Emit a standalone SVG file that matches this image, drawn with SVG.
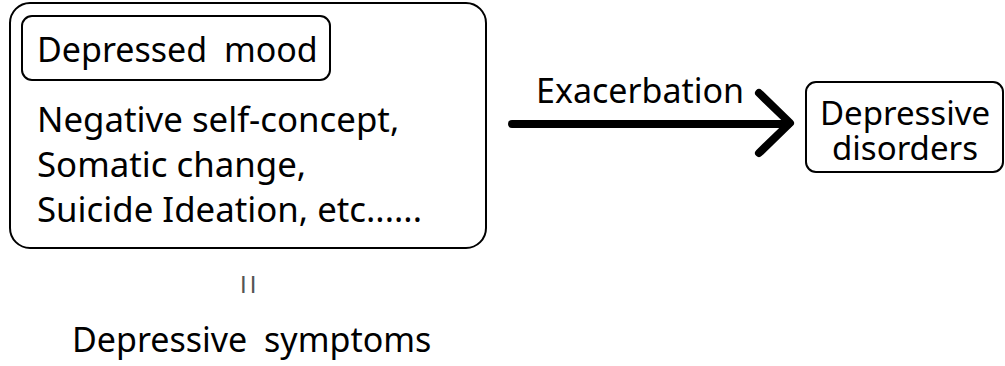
<svg xmlns="http://www.w3.org/2000/svg" width="1005" height="366" viewBox="0 0 1005 366">
  <style>
    .box { fill: #ffffff; stroke: #000000; stroke-width: 2; }
    .lbl { font-family: "Noto Sans", "Open Sans", "Liberation Sans", sans-serif; font-size: 34px; fill: #000000; }
    .list { font-size: 34.8px; }
    .small { font-size: 33px; }
    .arrow { fill: none; stroke: #000000; stroke-width: 8; stroke-linecap: round; stroke-linejoin: round; }
  </style>
  <rect width="1005" height="366" fill="#ffffff"/>

  <!-- symptom group: outer box with mood box and listed symptoms -->
  <g id="symptoms">
    <rect class="box" x="10" y="3" width="476" height="245" rx="20" ry="20"/>
    <g id="depressed-mood">
      <rect class="box" x="22" y="16" width="308" height="64" rx="10" ry="10"/>
      <text class="lbl" x="37" y="62" word-spacing="8">Depressed mood</text>
    </g>
    <text class="lbl list" x="37" y="132">Negative self-concept,</text>
    <text class="lbl list" x="37" y="177">Somatic change,</text>
    <text class="lbl list" x="37" y="222">Suicide Ideation, etc......</text>
  </g>

  <!-- equivalence mark and caption -->
  <g id="caption">
    <text x="240" y="293" font-family="Liberation Sans, sans-serif" font-size="24" letter-spacing="3.2" fill="#555555">II</text>
    <text class="lbl" x="72" y="352" word-spacing="8">Depressive symptoms</text>
  </g>

  <!-- disorder node -->
  <g id="disorders">
    <rect class="box" x="806" y="82" width="197" height="90" rx="10" ry="10"/>
    <text class="lbl small" x="905" y="125" text-anchor="middle">Depressive</text>
    <text class="lbl small" x="905" y="160" text-anchor="middle">disorders</text>
  </g>

  <!-- connector -->
  <g id="connectors">
    <path class="arrow" d="M512 124 H788"/>
    <path class="arrow" d="M759 93 L790 123 L759 153"/>
    <text class="lbl" x="536" y="103">Exacerbation</text>
  </g>
</svg>
